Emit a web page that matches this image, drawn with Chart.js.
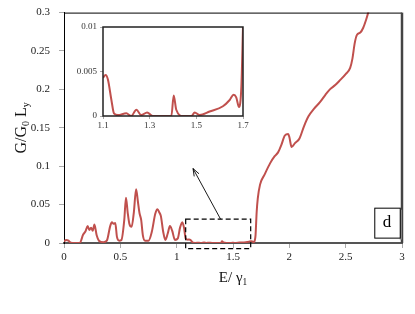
<!DOCTYPE html>
<html>
<head>
<meta charset="utf-8">
<script src="https://cdn.jsdelivr.net/npm/chart.js@4"></script>
<style>
  html, body { margin: 0; padding: 0; background: #fff; overflow: hidden; }
  #wrap { position: relative; width: 415px; height: 314px; overflow: hidden; }
  #main { position: absolute; left: 0; top: -3px; }
  #inset { position: absolute; left: 70px; top: 18px; }
</style>
</head>
<body>
<div id="wrap">
  <canvas id="main" width="415" height="317"></canvas>
  <canvas id="inset" width="180" height="112"></canvas>
</div>
<script>
// energia E/gamma1 y conductancia G/G0 Ly
const energia = [0, 0.02, 0.04, 0.06, 0.1, 0.14, 0.17, 0.19, 0.21, 0.225, 0.24, 0.255, 0.27, 0.29, 0.31, 0.35, 0.38,
  0.41, 0.425, 0.44, 0.455, 0.47, 0.49, 0.51, 0.535, 0.55, 0.565, 0.58, 0.6, 0.62, 0.64, 0.655, 0.67, 0.685,
  0.7, 0.72, 0.75, 0.78, 0.81, 0.83, 0.845, 0.86, 0.88, 0.9, 0.92, 0.94, 0.96, 0.985, 1.01, 1.03, 1.05, 1.065, 1.08,
  1.1, 1.111, 1.121, 1.136, 1.147, 1.164, 1.2, 1.221, 1.243, 1.264, 1.289, 1.314, 1.393, 1.403, 1.414, 1.443,
  1.479, 1.493, 1.514, 1.557, 1.614, 1.643, 1.66, 1.671, 1.683, 1.693, 1.7,
  1.71, 1.72, 1.74, 1.78, 1.83, 1.87, 1.9, 1.93, 1.96, 1.99, 2.0, 2.02, 2.05, 2.09, 2.13, 2.17, 2.22, 2.27,
  2.32, 2.36, 2.41, 2.45, 2.5, 2.54, 2.56, 2.58, 2.6, 2.63, 2.655, 2.68, 2.7, 2.72];
const conductancia = [0.002, 0.004, 0.003, 0.0005, 0, 0, 0.011, 0.015, 0.022, 0.017, 0.02, 0.016, 0.024, 0.01, 0.003, 0.001, 0.003,
  0.022, 0.027, 0.025, 0.026, 0.008, 0.003, 0.004, 0.03, 0.059, 0.04, 0.025, 0.021, 0.04, 0.07, 0.055, 0.039, 0.03,
  0.01, 0.003, 0.003, 0.015, 0.038, 0.044, 0.04, 0.035, 0.015, 0.004, 0.012, 0.022, 0.016, 0.004, 0.006, 0.02, 0.027, 0.02, 0.006,
  0.0043, 0.0046, 0.0041, 0.0018, 0.0003, 0.0001, 0.0003, 0, 0.0007, 0.0001, 0.0004, 0, 0, 0.0023, 0.0007, 0,
  0, 0.0004, 0.0001, 0.0005, 0.0011, 0.0018, 0.0024, 0.0021, 0.001, 0.0033, 0.01,
  0.04, 0.058, 0.076, 0.089, 0.104, 0.113, 0.118, 0.128, 0.14, 0.142, 0.138, 0.125, 0.13, 0.136, 0.152, 0.165, 0.175, 0.183,
  0.193, 0.2, 0.206, 0.212, 0.22, 0.228, 0.24, 0.26, 0.271, 0.274, 0.28, 0.29, 0.3, 0.315];

const ticksX = [0, 0.5, 1, 1.5, 2, 2.5, 3];
const ticksY = [0, 0.05, 0.1, 0.15, 0.2, 0.25, 0.3];
const ticksXInset = [1.1, 1.3, 1.5, 1.7];
const ticksYInset = [0, 0.005, 0.01];

const serif = '"Liberation Serif", "Times New Roman", serif';
const rojo = 'rgb(192,80,77)';

const puntos = energia.map((e, i) => ({ x: e, y: conductancia[i] }));
const puntosInset = puntos.filter(p => p.x >= 1.1 && p.x <= 1.7);

function fijarTicks(lista) {
  return function (scale) {
    scale.ticks = lista.map(v => ({ value: v }));
  };
}
const etiqueta = v => String(v);

// dibuja marco, rectangulo punteado, flecha, caja "d" y titulos
const decoraciones = {
  id: 'decoraciones',
  afterDraw(chart) {
    const ctx = chart.ctx;
    const a = chart.chartArea;
    const sx = chart.scales.x, sy = chart.scales.y;
    ctx.save();
    // marco superior y derecho
    ctx.strokeStyle = '#000';
    ctx.lineWidth = 1;
    ctx.beginPath();
    ctx.moveTo(a.left, a.top + 0.5);
    ctx.lineTo(a.right, a.top + 0.5);
    ctx.stroke();
    ctx.strokeStyle = '#444';
    ctx.lineWidth = 2.5;
    ctx.beginPath();
    ctx.moveTo(a.right, a.top);
    ctx.lineTo(a.right, a.bottom);
    ctx.stroke();

    // rectangulo punteado
    ctx.strokeStyle = '#000';
    ctx.lineWidth = 1.2;
    ctx.setLineDash([5, 3]);
    const rx1 = sx.getPixelForValue(1.08), rx2 = sx.getPixelForValue(1.657);
    const ry1 = sy.getPixelForValue(0.031), ry2 = sy.getPixelForValue(-0.0074);
    ctx.strokeRect(rx1, ry1, rx2 - rx1, ry2 - ry1);
    ctx.setLineDash([]);

    // flecha
    const ax1 = sx.getPixelForValue(1.39), ay1 = sy.getPixelForValue(0.031);
    const ax2 = sx.getPixelForValue(1.145), ay2 = sy.getPixelForValue(0.097);
    ctx.lineWidth = 0.9;
    ctx.beginPath();
    ctx.moveTo(ax1, ay1);
    ctx.lineTo(ax2, ay2);
    const ang = Math.atan2(ay2 - ay1, ax2 - ax1);
    ctx.moveTo(ax2 - 8 * Math.cos(ang - 0.35), ay2 - 8 * Math.sin(ang - 0.35));
    ctx.lineTo(ax2, ay2);
    ctx.lineTo(ax2 - 8 * Math.cos(ang + 0.35), ay2 - 8 * Math.sin(ang + 0.35));
    ctx.stroke();

    // caja "d"
    const dx1 = sx.getPixelForValue(2.754), dx2 = sx.getPixelForValue(2.98);
    const dy1 = sy.getPixelForValue(0.046), dy2 = sy.getPixelForValue(0.007);
    ctx.fillStyle = '#999';
    ctx.fillRect(dx2, dy1 + 2, 2, dy2 - dy1);
    ctx.fillStyle = '#fff';
    ctx.fillRect(dx1, dy1, dx2 - dx1, dy2 - dy1);
    ctx.lineWidth = 1;
    ctx.strokeRect(dx1 + 0.5, dy1 + 0.5, dx2 - dx1, dy2 - dy1);
    ctx.fillStyle = '#000';
    ctx.font = '17px ' + serif;
    ctx.textAlign = 'center';
    ctx.textBaseline = 'middle';
    ctx.fillText('d', (dx1 + dx2) / 2, (dy1 + dy2) / 2);

    // titulo eje x: E/ γ1
    ctx.textAlign = 'left';
    ctx.textBaseline = 'alphabetic';
    dibujarConSubindice(ctx, [['E/ γ', false], ['1', true]], (a.left + a.right) / 2, 285, 15);

    // titulo eje y: G/G0 Ly
    ctx.translate(21, 131);
    ctx.rotate(-Math.PI / 2);
    dibujarConSubindice(ctx, [['G/G', false], ['0', true], [' L', false], ['y', true]], 0, 5, 16);
    ctx.restore();
  }
};

function dibujarConSubindice(ctx, partes, cx, base, tam) {
  let ancho = 0;
  partes.forEach(([t, sub]) => {
    ctx.font = (sub ? tam * 0.62 : tam) + 'px ' + serif;
    ancho += ctx.measureText(t).width;
  });
  let x = cx - ancho / 2;
  ctx.fillStyle = '#111';
  partes.forEach(([t, sub]) => {
    ctx.font = (sub ? tam * 0.62 : tam) + 'px ' + serif;
    ctx.fillText(t, x, sub ? base + 3 : base);
    x += ctx.measureText(t).width;
  });
}

const marcoInset = {
  id: 'marcoInset',
  afterDraw(chart) {
    const ctx = chart.ctx;
    const a = chart.chartArea;
    ctx.save();
    ctx.strokeStyle = '#222';
    ctx.lineWidth = 1.5;
    ctx.strokeRect(a.left, a.top, a.right - a.left, a.bottom - a.top);
    ctx.restore();
  }
};

new Chart(document.getElementById('main'), {
  type: 'line',
  data: {
    datasets: [{
      data: puntos,
      borderColor: rojo,
      borderWidth: 2,
      pointRadius: 0,
      cubicInterpolationMode: 'monotone',
      fill: false
    }]
  },
  options: {
    responsive: false,
    animation: false,
    layout: { padding: { left: 0, right: 13, top: 6, bottom: 0 } },
    plugins: { legend: { display: false }, tooltip: { enabled: false } },
    scales: {
      x: {
        type: 'linear',
        min: 0, max: 3,
        afterBuildTicks: fijarTicks(ticksX),
        afterFit(scale) { scale.height = 71; },
        ticks: { font: { family: serif, size: 11 }, color: '#222', padding: 3, maxRotation: 0, callback: etiqueta },
        grid: { drawOnChartArea: false, tickLength: 5, color: '#aaa' },
        border: { display: true, color: '#555', width: 2 }
      },
      y: {
        type: 'linear',
        min: 0, max: 0.3,
        afterBuildTicks: fijarTicks(ticksY),
        afterFit(scale) { scale.width = 64; },
        ticks: { font: { family: serif, size: 11 }, color: '#222', padding: 9, callback: etiqueta },
        grid: { drawOnChartArea: false, tickLength: 5, color: '#aaa' },
        border: { display: true, color: '#000', width: 1 }
      }
    }
  },
  plugins: [decoraciones]
});

new Chart(document.getElementById('inset'), {
  type: 'line',
  data: {
    datasets: [{
      data: puntosInset,
      borderColor: rojo,
      borderWidth: 2,
      pointRadius: 0,
      cubicInterpolationMode: 'monotone',
      fill: false
    }]
  },
  options: {
    responsive: false,
    animation: false,
    layout: { padding: { left: 0, right: 7, top: 9, bottom: 0 } },
    plugins: { legend: { display: false }, tooltip: { enabled: false } },
    scales: {
      x: {
        type: 'linear',
        min: 1.1, max: 1.7,
        afterBuildTicks: fijarTicks(ticksXInset),
        afterFit(scale) { scale.height = 14; },
        ticks: { font: { family: serif, size: 9 }, color: '#333', padding: 1, maxRotation: 0, callback: etiqueta },
        grid: { drawOnChartArea: false, tickLength: 3, color: '#aaa' },
        border: { display: false }
      },
      y: {
        type: 'linear',
        min: 0, max: 0.01,
        afterBuildTicks: fijarTicks(ticksYInset),
        afterFit(scale) { scale.width = 33; },
        ticks: { font: { family: serif, size: 9 }, color: '#333', padding: 3, callback: etiqueta },
        grid: { drawOnChartArea: false, tickLength: 3, color: '#aaa' },
        border: { display: false }
      }
    }
  },
  plugins: [marcoInset]
});
</script>
</body>
</html>
